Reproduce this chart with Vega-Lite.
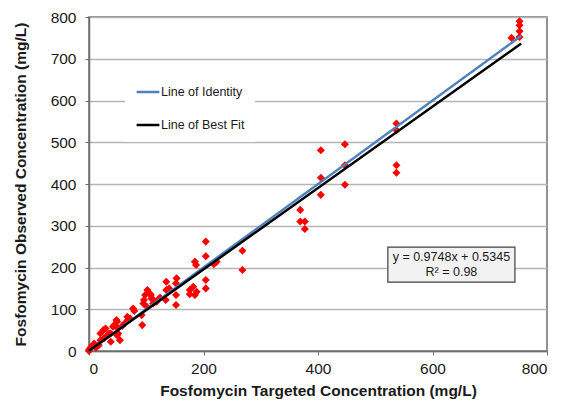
{
  "$schema": "https://vega.github.io/schema/vega-lite/v6.json",
  "width": 458,
  "height": 334,
  "autosize": {"type": "none"},
  "padding": {"left": 89, "top": 17, "right": 20, "bottom": 51},
  "background": "white",
  "config": {
    "font": "Liberation Sans",
    "view": {"stroke": "#6e6e6e", "strokeWidth": 1.5},
    "axis": {
      "labelFont": "Liberation Sans",
      "titleFont": "Liberation Sans",
      "labelColor": "#1a1a1a",
      "titleColor": "#1a1a1a",
      "domainColor": "#6e6e6e",
      "domainWidth": 1.5,
      "tickColor": "#6e6e6e",
      "tickSize": 4,
      "labelFontSize": 15.5,
      "titleFontSize": 15.5,
      "titleFontWeight": "bold"
    }
  },
  "datasets": {
    "points": [
      {"target": 0, "observed": 0},
      {"target": 0, "observed": 3},
      {"target": 3, "observed": 9},
      {"target": 6, "observed": 12},
      {"target": 9, "observed": 18},
      {"target": 12, "observed": 8},
      {"target": 17, "observed": 14},
      {"target": 20, "observed": 26},
      {"target": 20, "observed": 42},
      {"target": 25, "observed": 50},
      {"target": 26, "observed": 30},
      {"target": 29, "observed": 54},
      {"target": 31, "observed": 36},
      {"target": 35, "observed": 42},
      {"target": 38, "observed": 22},
      {"target": 38, "observed": 42},
      {"target": 42, "observed": 58},
      {"target": 44, "observed": 62},
      {"target": 48, "observed": 74},
      {"target": 49, "observed": 38},
      {"target": 49, "observed": 70},
      {"target": 50, "observed": 55},
      {"target": 51, "observed": 42},
      {"target": 54, "observed": 26},
      {"target": 58, "observed": 60},
      {"target": 62, "observed": 66},
      {"target": 67, "observed": 82},
      {"target": 68, "observed": 74},
      {"target": 72, "observed": 78},
      {"target": 77, "observed": 102},
      {"target": 79, "observed": 96},
      {"target": 92, "observed": 86},
      {"target": 93, "observed": 62},
      {"target": 95, "observed": 114},
      {"target": 96, "observed": 122},
      {"target": 98, "observed": 134},
      {"target": 101, "observed": 106},
      {"target": 102, "observed": 146},
      {"target": 106, "observed": 138},
      {"target": 108, "observed": 134},
      {"target": 109, "observed": 126},
      {"target": 112, "observed": 114},
      {"target": 113, "observed": 122},
      {"target": 118, "observed": 118},
      {"target": 124, "observed": 128},
      {"target": 134, "observed": 122},
      {"target": 135, "observed": 146},
      {"target": 135, "observed": 166},
      {"target": 140, "observed": 150},
      {"target": 152, "observed": 110},
      {"target": 152, "observed": 134},
      {"target": 152, "observed": 162},
      {"target": 153, "observed": 174},
      {"target": 176, "observed": 136},
      {"target": 176, "observed": 146},
      {"target": 182, "observed": 154},
      {"target": 185, "observed": 134},
      {"target": 188, "observed": 142},
      {"target": 185, "observed": 214},
      {"target": 187, "observed": 206},
      {"target": 204, "observed": 150},
      {"target": 204, "observed": 170},
      {"target": 204, "observed": 227},
      {"target": 204, "observed": 262},
      {"target": 218, "observed": 208},
      {"target": 223, "observed": 214},
      {"target": 268, "observed": 194},
      {"target": 268, "observed": 240},
      {"target": 369, "observed": 338},
      {"target": 369, "observed": 310},
      {"target": 377, "observed": 310},
      {"target": 377, "observed": 292},
      {"target": 405, "observed": 374},
      {"target": 405, "observed": 415},
      {"target": 405, "observed": 481},
      {"target": 447, "observed": 398},
      {"target": 447, "observed": 445},
      {"target": 447, "observed": 495},
      {"target": 537, "observed": 427},
      {"target": 537, "observed": 445},
      {"target": 537, "observed": 529},
      {"target": 537, "observed": 545},
      {"target": 738, "observed": 750},
      {"target": 752, "observed": 752},
      {"target": 752, "observed": 766},
      {"target": 752, "observed": 780},
      {"target": 752, "observed": 790}
    ],
    "lines": [
      {"series": "Line of Identity", "x": 0, "y": 0},
      {"series": "Line of Identity", "x": 755, "y": 755},
      {"series": "Line of Best Fit", "x": 0, "y": 0.5345},
      {"series": "Line of Best Fit", "x": 755, "y": 736.51}
    ],
    "fitbox": [
      {"x1": 522, "x2": 744, "y1": 165, "y2": 249}
    ],
    "fittext": [
      {"x": 633, "y": 224, "label": "y = 0.9748x + 0.5345"},
      {"x": 633, "y": 190, "label": "R² = 0.98"}
    ]
  },
  "layer": [
    {
      "data": {"name": "points"},
      "mark": {"type": "point", "shape": "diamond", "filled": true, "color": "#ff0000", "size": 65, "opacity": 1},
      "encoding": {
        "x": {
          "field": "target", "type": "quantitative",
          "scale": {"domain": [0, 800], "nice": false},
          "axis": {
            "title": "Fosfomycin Targeted Concentration (mg/L)",
            "values": [0, 200, 400, 600, 800],
            "grid": false,
            "labelPadding": 6,
            "titlePadding": 7
          }
        },
        "y": {
          "field": "observed", "type": "quantitative",
          "scale": {"domain": [0, 800], "nice": false},
          "axis": {
            "title": "Fosfomycin Observed Concentration (mg/L)",
            "values": [0, 100, 200, 300, 400, 500, 600, 700, 800],
            "grid": true,
            "gridColor": "#b4b4b4",
            "gridWidth": 1.5,
            "labelPadding": 9,
            "titlePadding": 22
          }
        }
      }
    },
    {
      "data": {"name": "lines"},
      "mark": {"type": "line", "strokeWidth": 2.5},
      "encoding": {
        "x": {"field": "x", "type": "quantitative"},
        "y": {"field": "y", "type": "quantitative"},
        "color": {
          "field": "series", "type": "nominal",
          "scale": {"domain": ["Line of Identity", "Line of Best Fit"], "range": ["#4f81bd", "#000000"]},
          "legend": {
            "title": null,
            "orient": "none",
            "legendX": 36,
            "legendY": 52,
            "fillColor": "white",
            "padding": 10,
            "symbolType": "stroke",
            "symbolSize": 520,
            "symbolStrokeWidth": 2.5,
            "symbolOffset": 0,
            "labelFontSize": 12.5,
            "labelFont": "Liberation Sans",
            "labelColor": "#1a1a1a",
            "labelOffset": 0,
            "rowPadding": 13
          }
        }
      }
    },
    {
      "data": {"name": "fitbox"},
      "mark": {"type": "rect", "fill": "#f2f2f2", "stroke": "#404040", "strokeWidth": 1.2},
      "encoding": {
        "x": {"field": "x1", "type": "quantitative"},
        "x2": {"field": "x2"},
        "y": {"field": "y1", "type": "quantitative"},
        "y2": {"field": "y2"}
      }
    },
    {
      "data": {"name": "fittext"},
      "mark": {"type": "text", "fontSize": 12.5, "font": "Liberation Sans", "color": "#1a1a1a", "align": "center", "baseline": "middle"},
      "encoding": {
        "x": {"field": "x", "type": "quantitative"},
        "y": {"field": "y", "type": "quantitative"},
        "text": {"field": "label"}
      }
    }
  ]
}
